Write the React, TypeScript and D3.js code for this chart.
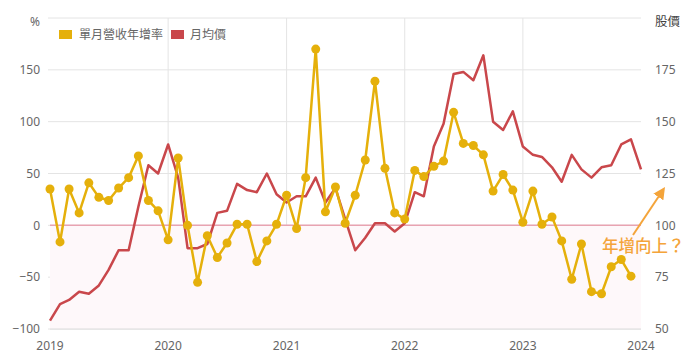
import React from 'react'
import * as d3 from 'd3'

// 單月營收年增率 (%), 2019/01 ~ 2023/12
const yoy: number[] = [
  35, -16, 35, 12, 41, 27, 24, 36, 46, 67, 24, 14,
  -14, 65, 0, -55, -10, -31, -17, 1, 1, -35, -15, 1,
  29, -3, 46, 170, 13, 37, 2, 29, 63, 139, 55, 12,
  6, 53, 47, 57, 62, 109, 79, 77, 68, 33, 49, 34,
  3, 33, 1, 8, -15, -52, -18, -64, -66, -40, -33, -49,
]
// 月均價, 2019/01 ~ 2024/01
const price: number[] = [
  54, 62, 64, 68, 67, 71, 78.5, 88, 88, 109, 129, 125,
  139, 123, 89, 89, 91, 106, 107, 120, 117, 116, 125, 115,
  111, 114, 114, 123, 111, 118, 103, 88, 94, 101, 101, 97,
  101, 116, 114, 138, 149, 173, 174, 170, 182, 150, 146, 155,
  138, 134, 133, 128, 121, 134, 127, 123, 128, 129, 139, 141.5,
  127,
]
const years = [2019, 2020, 2021, 2022, 2023, 2024]
const leftTicks = [-100, -50, 0, 50, 100, 150]
const rightTicks = [50, 75, 100, 125, 150, 175]
const seriesNames = ['單月營收年增率', '月均價']

const W = 696
const H = 364
const margin = { top: 18, right: 55, bottom: 35, left: 50 }
const YELLOW = '#e5b00b'
const RED = '#c9474b'
const ORANGE = '#f4a43a'
const GRAY = '#666'
const FONT = '"Noto Sans", "Noto Sans CJK TC", sans-serif'

export default function App() {
  const x = d3.scaleTime()
    .domain([new Date(2019, 0, 1), new Date(2024, 0, 1)])
    .range([margin.left, W - margin.right])
  const yL = d3.scaleLinear().domain([-100, 200]).range([H - margin.bottom, margin.top])
  const yR = d3.scaleLinear().domain([50, 200]).range([H - margin.bottom, margin.top])

  const monthDate = (i: number) => new Date(2019, i, 1)

  const yoyLine = d3.line<number>()
    .x((_, i) => x(monthDate(i)))
    .y(d => yL(d))
  const priceLine = d3.line<number>()
    .x((_, i) => x(monthDate(i)))
    .y(d => yR(d))

  const x0 = margin.left
  const x1 = W - margin.right

  return (
    <svg width={W} height={H} style={{ position: 'absolute', left: 0, top: 0, background: '#fff', fontFamily: FONT }}>
      <defs>
        <marker id="arrow" viewBox="0 0 10 10" refX="4" refY="5" markerWidth="12" markerHeight="12" orient="auto" markerUnits="userSpaceOnUse">
          <path d="M0,0 L10,5 L0,10 z" fill={ORANGE} />
        </marker>
      </defs>

      {/* 格線 */}
      {[...leftTicks, 200].map(t => (
        <line key={'h' + t} x1={x0 - 2} x2={x1} y1={yL(t)} y2={yL(t)} stroke="#e4e4e4" strokeWidth={1} />
      ))}
      {years.slice(1, -1).map(yr => (
        <line key={'v' + yr} x1={x(new Date(yr, 0, 1))} x2={x(new Date(yr, 0, 1))} y1={yL(200)} y2={yL(-100)} stroke="#e4e4e4" strokeWidth={1} />
      ))}

      {/* 負成長區 */}
      <rect x={x0} y={yL(0)} width={x1 - x0} height={yL(-100) - yL(0)} fill="#fef8fa" />
      <line x1={x0} x2={x1} y1={yL(0)} y2={yL(0)} stroke="#e8a3b1" strokeWidth={1.5} />
      <line x1={x0} x2={x1} y1={yL(-100)} y2={yL(-100)} stroke="#ddd" strokeWidth={1} />

      {/* 左軸 */}
      {leftTicks.map(t => (
        <text key={'l' + t} x={40} y={yL(t)} dy="0.35em" textAnchor="end" fontSize={12} fill={GRAY}>
          {t < 0 ? '\u2212' + Math.abs(t) : t}
        </text>
      ))}
      <text x={40} y={yL(200) + 4} dy="0.35em" textAnchor="end" fontSize={12} fill={GRAY}>%</text>

      {/* 右軸 */}
      {rightTicks.map(t => (
        <text key={'r' + t} x={655} y={yR(t)} dy="0.35em" textAnchor="start" fontSize={12} fill={GRAY}>{t}</text>
      ))}
      <text x={655} y={yR(200) + 4} dy="0.35em" textAnchor="start" fontSize={12.5} fill="#444">股價</text>

      {/* x 軸 */}
      {years.map(yr => (
        <text key={'x' + yr} x={x(new Date(yr, 0, 1))} y={346} dy="0.35em" textAnchor="middle" fontSize={12} fill={GRAY}>{yr}</text>
      ))}

      {/* 月均價 */}
      <path d={priceLine(price) || ''} fill="none" stroke={RED} strokeWidth={2.5} strokeLinejoin="round" />

      {/* 單月營收年增率 */}
      <path d={yoyLine(yoy) || ''} fill="none" stroke={YELLOW} strokeWidth={2.5} strokeLinejoin="round" />
      {yoy.map((v, i) => (
        <circle key={'p' + i} cx={x(monthDate(i))} cy={yL(v)} r={4.5} fill={YELLOW} />
      ))}

      {/* 圖例 */}
      <rect x={59} y={30} width={13} height={9} fill={YELLOW} />
      <text x={79} y={34.5} dy="0.35em" fontSize={12} fill={GRAY}>{seriesNames[0]}</text>
      <rect x={171} y={30} width={13} height={9} fill={RED} />
      <text x={190} y={34.5} dy="0.35em" fontSize={12} fill={GRAY}>{seriesNames[1]}</text>

      {/* 註解 */}
      <line x1={633} y1={235} x2={661} y2={193} stroke={ORANGE} strokeWidth={2} markerEnd="url(#arrow)" />
      <text x={602} y={246} dy="0.35em" fontSize={16.5} fontWeight={500} fill={ORANGE}>年增向上？</text>
    </svg>
  )
}
